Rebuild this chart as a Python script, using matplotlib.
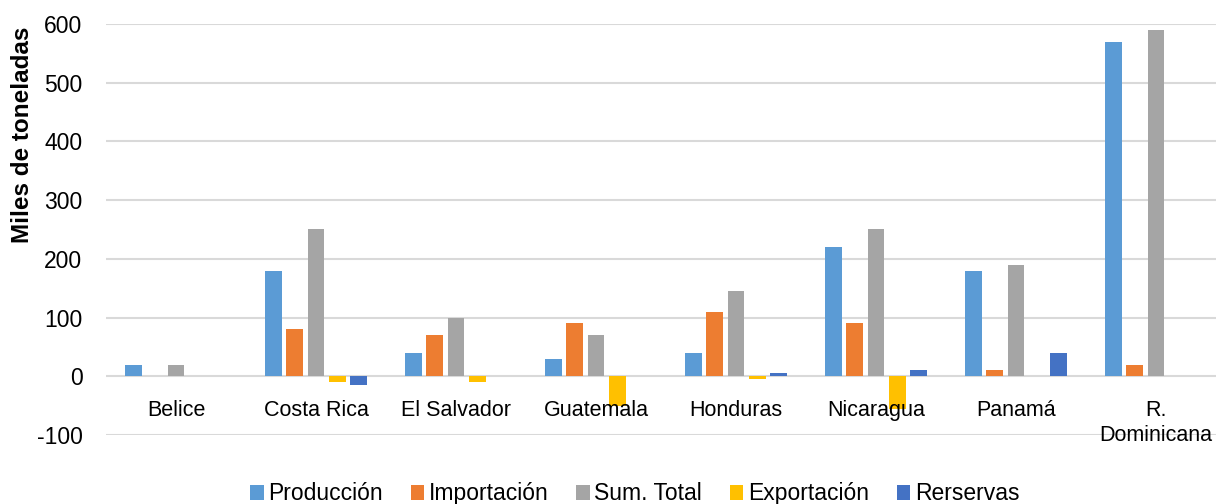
import numpy as np
import matplotlib
matplotlib.use('Agg')
import matplotlib.pyplot as plt

plt.rcParams['font.family'] = ['Liberation Sans', 'DejaVu Sans']
plt.rcParams['axes.unicode_minus'] = False

# data (miles de toneladas)
paises = ['Belice', 'Costa Rica', 'El Salvador', 'Guatemala', 'Honduras',
          'Nicaragua', 'Panamá', 'R.\nDominicana']
produccion = [20, 180, 40, 30, 40, 220, 180, 570]
importacion = [0, 80, 70, 90, 110, 90, 10, 20]
sum_total = [20, 250, 100, 70, 145, 250, 190, 590]
exportacion = [0, -10, -10, -50, -5, -55, 0, 0]
reservas = [0, -15, 0, 0, 5, 10, 40, 0]

series = [('Producción', produccion, '#5B9BD5'),
          ('Importación', importacion, '#ED7D31'),
          ('Sum. Total', sum_total, '#A5A5A5'),
          ('Exportación', exportacion, '#FFC000'),
          ('Rerservas', reservas, '#4472C4')]

fig = plt.figure(figsize=(12.16, 5.04), dpi=100)
ax = fig.add_axes([106/1216, 69/504, 1120/1216, 411/504])

x = np.arange(len(paises))
step = 0.152
width = 0.119
for k, (name, vals, col) in enumerate(series):
    ax.bar(x + (k - 2) * step, vals, width, color=col, label=name, zorder=2)

ax.set_xlim(-0.5, len(paises) - 0.5)
ax.set_ylim(-100, 600)
ax.set_yticks(range(-100, 601, 100))
ax.yaxis.grid(True, color='#d9d9d9', linewidth=1.5)
ax.set_axisbelow(True)
for s in ax.spines.values():
    s.set_visible(False)
ax.tick_params(axis='y', length=0, pad=17, labelsize=16.5)
ax.set_xticks([])

for xi, p in zip(x, paises):
    ax.annotate(p, (xi, 0), xytext=(0, -17), textcoords='offset points',
                ha='center', va='top', fontsize=15.5, zorder=5,
                linespacing=1.25)

ax.set_ylabel('Miles de toneladas', fontsize=17.5, fontweight='bold')
ax.yaxis.set_label_coords(-0.064, 0.73)

fig.legend(loc='center', bbox_to_anchor=(0.522, 0.02), ncol=5, frameon=False,
           fontsize=16.5, handlelength=0.6, handleheight=0.6,
           handletextpad=0.2, columnspacing=1.2)

fig.savefig('out.png', dpi=100)
